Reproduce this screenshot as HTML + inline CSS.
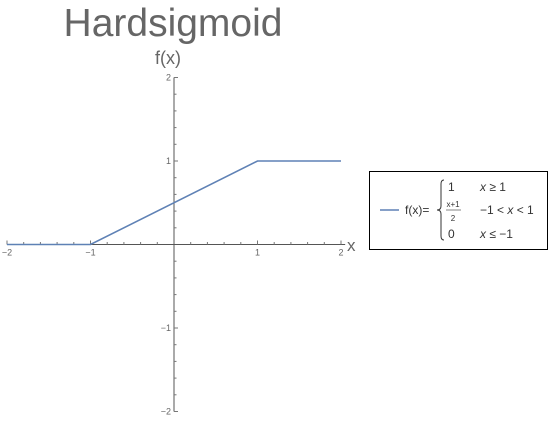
<!DOCTYPE html>
<html><head><meta charset="utf-8"><style>
body{margin:0;background:#fff;font-family:"Liberation Sans",sans-serif}
</style></head><body>
<svg width="548" height="422" viewBox="0 0 548 422">
<text x="173" y="36" text-anchor="middle" font-size="39" fill="#666">Hardsigmoid</text>
<g id="axes"></g>
<g id="series"></g>
<g>
<rect x="369.5" y="171.5" width="178" height="78" fill="#fff" stroke="#000" stroke-width="1"/>
<line x1="380" y1="210" x2="399" y2="210" stroke="#5E81B5" stroke-width="1.5"/>
<text x="405" y="214" font-size="12" fill="#333">f(x)=</text>
<path d="M444,180 q-3,0 -3,4 v22 q0,4 -4,4 q4,0 4,4 v22 q0,4 3,4" fill="none" stroke="#333" stroke-width="1"/>
<text x="448" y="191" font-size="12" fill="#333">1</text>
<text x="453" y="207" font-size="8" text-anchor="middle" fill="#333">x+1</text>
<line x1="446" y1="210" x2="461" y2="210" stroke="#333" stroke-width="0.6"/>
<text x="453" y="221" font-size="8" text-anchor="middle" fill="#333">2</text>
<text x="448" y="238" font-size="12" fill="#333">0</text>
<text x="480" y="191" font-size="12" fill="#333"><tspan font-style="italic">x</tspan> ≥ 1</text>
<text x="480" y="214" font-size="12" fill="#333">−1 &lt; <tspan font-style="italic">x</tspan> &lt; 1</text>
<text x="480" y="238" font-size="12" fill="#333"><tspan font-style="italic">x</tspan> ≤ −1</text>
</g>
</svg>
<script>
const xs=[-2,-1,1,2];
const ys=[0,0,1,1];
const xTicks=[-2,-1,1,2];
const yTicks=[-2,-1,1,2];
const X=v=>174+v*83.5, Y=v=>244.5-v*83.5;
const NS="http://www.w3.org/2000/svg";
function mk(p,t,a){const e=document.createElementNS(NS,t);for(const k in a)e.setAttribute(k,a[k]);p.appendChild(e);return e;}
const ax=document.getElementById('axes');
const xl=mk(ax,'line',{x1:X(-2),y1:Y(0),x2:X(2.05),y2:Y(0),stroke:'#555'});


const yl=mk(ax,'line',{x1:X(0),y1:Y(2),x2:X(0),y2:Y(-2),stroke:'#555'});


for(let i=-10;i<=10;i++){const v=i/5;const maj=i%5===0;
 if(i!==0){mk(ax,'line',{x1:X(v),y1:Y(0),x2:X(v),y2:Y(0)-(maj?4:2.5),stroke:'#777'});
 mk(ax,'line',{x1:X(0),y1:Y(v),x2:X(0)+(maj?4:2.5),y2:Y(v),stroke:'#777'});}}
xTicks.forEach(v=>{const t=mk(ax,'text',{x:X(v),y:Y(0)+11,'font-size':9,'text-anchor':'middle',fill:'#666'});t.textContent=v<0?'−'+(-v):v;

});
yTicks.forEach(v=>{const t=mk(ax,'text',{x:X(0)-3,y:Y(v)+3,'font-size':9,'text-anchor':'end',fill:'#666'});t.textContent=v<0?'−'+(-v):v;

});
const xt=mk(ax,'text',{x:347,y:251,'font-size':17,fill:'#666'});xt.textContent='x';


const yt=mk(ax,'text',{x:168,y:64,'font-size':18,'text-anchor':'middle',fill:'#666'});yt.textContent='f(x)';


const s=document.getElementById('series');
const pl=mk(s,'polyline',{points:xs.map((x,i)=>X(x)+','+Y(ys[i])).join(' '),fill:'none',stroke:'#5E81B5','stroke-width':1.6});


</script>
</body></html>
